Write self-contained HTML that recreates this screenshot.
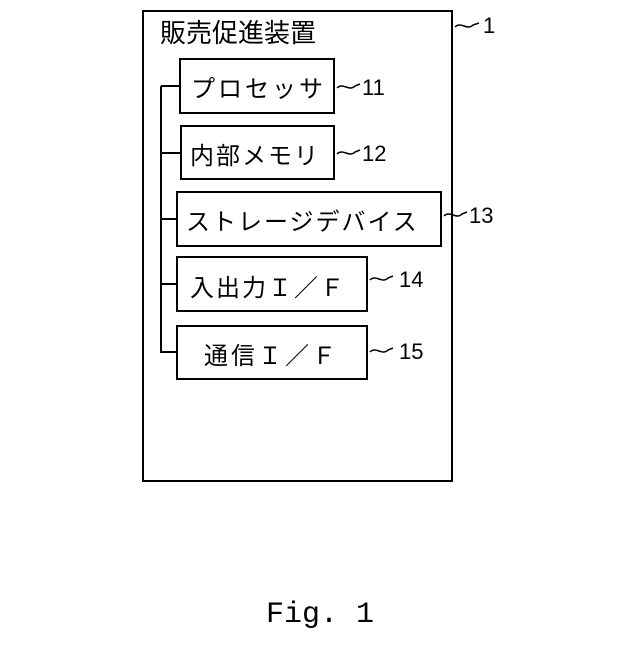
<!DOCTYPE html>
<html><head><meta charset="utf-8"><style>
body{margin:0;background:#fff}
svg text{font-family:"Liberation Sans","Noto Sans CJK JP",sans-serif;fill:#000}
</style></head><body>
<svg width="640" height="640" viewBox="0 0 640 640" xmlns="http://www.w3.org/2000/svg">
<g fill="none" stroke="#000" stroke-width="2">
<rect x="143" y="11" width="309" height="470"/>
<rect x="180" y="59" width="154" height="54"/>
<rect x="181" y="126" width="153" height="53"/>
<rect x="177" y="192" width="264" height="54"/>
<rect x="177" y="257" width="190" height="54"/>
<rect x="177" y="326" width="190" height="53"/>
<path d="M161 86V353M161 86H180M161 153H181M161 219H177M161 284H177M161 352H177"/>
<g stroke-width="1.5">
<path d="M455 27c6-6 12 4 18-2l6-2"/>
<path d="M337 88c6-6 12 4 18-2l5-2"/>
<path d="M337 154c6-6 12 4 18-2l5-2"/>
<path d="M444 216c6-6 12 4 18-2l5-2"/>
<path d="M370 280c6-6 12 4 18-2l5-2"/>
<path d="M370 352c6-6 12 4 18-2l5-2"/>
</g>
</g>
<text x="160" y="42" font-size="26">販売促進装置</text>
<text x="191" y="97" font-size="24" letter-spacing="3">プロセッサ</text>
<text x="190" y="164" font-size="24" letter-spacing="2">内部メモリ</text>
<text x="186" y="230" font-size="24" letter-spacing="2">ストレージデバイス</text>
<text x="190" y="296" font-size="24" letter-spacing="2">入出力Ｉ／Ｆ</text>
<text x="204" y="364" font-size="24" letter-spacing="3">通信Ｉ／Ｆ</text>
<g font-size="22">
<text x="483" y="33">1</text>
<text x="362" y="95">11</text>
<text x="362" y="161">12</text>
<text x="469" y="223">13</text>
<text x="399" y="287">14</text>
<text x="399" y="359">15</text>
</g>
<text x="320" y="622" font-size="30" text-anchor="middle" style="font-family:'Liberation Mono',monospace">Fig. 1</text>
</svg>
</body></html>
